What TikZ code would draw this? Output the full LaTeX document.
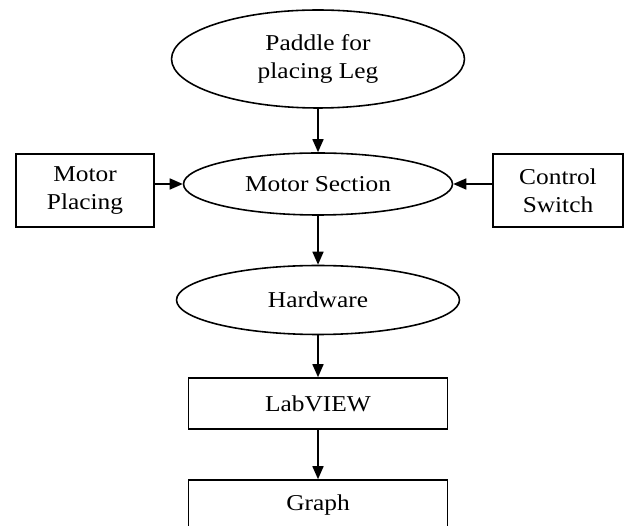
\documentclass[tikz,border=0pt]{standalone}
\usepackage{fontspec}
\setmainfont{Liberation Serif}[FakeStretch=1.12]
\usetikzlibrary{arrows.meta,shapes.geometric}
\tikzset{
    >={Triangle[length=0.26cm,width=0.22cm]} % Default arrow tip
}
\tikzstyle{every node}=[
    draw,
    line width = 0.9pt,
    align = center,
    inner sep = 0cm,
    font = \fontsize{12.9pt}{15.8pt}\selectfont
]
\tikzstyle{oval}=[ellipse]
\tikzstyle{block}=[rectangle]

\begin{document}
\begin{tikzpicture}[x=0.02cm, y=-0.02cm, line width=0.9pt]
    \useasboundingbox (0,0) rectangle (625,526);
    \clip (0,0) rectangle (625,526);

    \node [oval, minimum width=5.86cm, minimum height=1.96cm] (paddle) at (318,59) {Paddle for\\placing Leg};
    \node [oval, minimum width=5.38cm, minimum height=1.24cm] (section) at (318,184) {Motor Section};
    \node [block, minimum width=2.76cm, minimum height=1.46cm] (placing) at (85,190.5) {Motor\\Placing};
    \node [block, minimum width=2.6cm, minimum height=1.46cm] (switch) at (558,190.5) {Control\\Switch};
    \node [oval, minimum width=5.66cm, minimum height=1.38cm] (hardware) at (318,300) {Hardware};
    \node [block, minimum width=5.18cm, minimum height=1.02cm] (labview) at (318,403.5) {LabVIEW};
    \node [block, minimum width=5.18cm, minimum height=1.02cm] (graph) at (318,505.5) {Graph};

    \draw [->] (paddle.south) -- (section.north);
    \draw [->] (placing.east |- section.west) -- (section.west);
    \draw [->] (switch.west |- section.east) -- (section.east);
    \draw [->] (section.south) -- (hardware.north);
    \draw [->] (hardware.south) -- (labview.north);
    \draw [->] (labview.south) -- (graph.north);
\end{tikzpicture}
\end{document}
